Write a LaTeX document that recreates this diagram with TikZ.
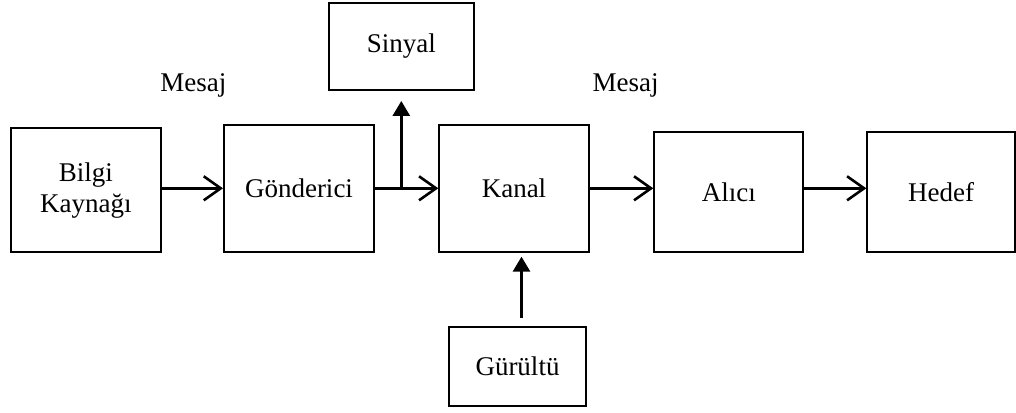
\documentclass[tikz,border=0pt]{standalone}
\usepackage{fontspec}
\setmainfont{Liberation Serif}
\usetikzlibrary{arrows.meta}
\begin{document}
\begin{tikzpicture}[x=1pt,y=-1pt,
  every node/.style={font=\fontsize{27}{31.5}\selectfont},
  box/.style={draw, line width=2pt, rectangle, inner sep=0pt, align=center},
  flow/.style={line width=2.8pt, -{Straight Barb[length=17pt,width=24pt,line width=2.6pt]}},
  side/.style={line width=2.8pt, -{Triangle[length=15pt,width=17pt]}}]
  \useasboundingbox (0,0) rectangle (1016,412);

  % main chain of blocks
  \node[box, minimum width=150pt, minimum height=124pt] (bilgi) at (85.9,190.3) {Bilgi\\Kaynağı};
  \node[box, minimum width=150pt, minimum height=126.7pt] (gond) at (299,188.3) {Gönderici};
  \node[box, minimum width=149.4pt, minimum height=126.7pt] (kanal) at (514,188.3) {Kanal};
  \node[box, minimum width=149pt, minimum height=119.4pt] (alici) at (728.8,192) {Alıcı};
  \node[box, minimum width=147.7pt, minimum height=119.4pt] (hedef) at (941.2,192) {Hedef};

  % side blocks
  \node[box, minimum width=144.7pt, minimum height=87.3pt] (sinyal) at (401.3,46.3) {Sinyal};
  \node[box, minimum width=136.4pt, minimum height=79pt] (gur) at (517.5,366.2) {Gürültü};

  % labels
  \node[anchor=base, inner sep=0pt] (mesaj1) at (193.4,91) {Mesaj};
  \node[anchor=base, inner sep=0pt] (mesaj2) at (625.5,91) {Mesaj};

  % message flow
  \draw[flow] (bilgi.east |- gond.east) -- (gond.west);
  \draw[flow] (gond.east) -- (kanal.west);
  \draw[flow] (kanal.east) -- (kanal.east -| alici.west);
  \draw[flow] (alici.east |- kanal.east) -- (hedef.west |- kanal.east);

  % branch to the signal block
  \coordinate (split) at (sinyal.south |- gond.east);
  \draw[side, shorten >=10pt] (split) -- (sinyal.south);

  % noise entering the channel
  \draw[side, shorten <=8pt, shorten >=4pt] ([xshift=4pt]gur.north) -- ([xshift=4pt]gur.north |- kanal.south);
\end{tikzpicture}
\end{document}
